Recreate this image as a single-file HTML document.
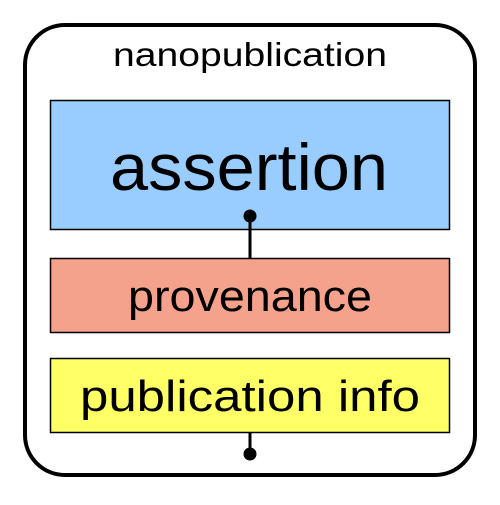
<!DOCTYPE html>
<html><head><style>html,body{margin:0;padding:0;background:#fff}</style></head>
<body>
<svg width="500" height="500" viewBox="0 0 500 500" xmlns="http://www.w3.org/2000/svg" font-family="Liberation Sans, sans-serif">
<rect x="25" y="25" width="450" height="450" rx="40" ry="40" fill="#fff" stroke="#000" stroke-width="4"/>
<text x="250" y="66" font-size="33" text-anchor="middle" textLength="274" lengthAdjust="spacingAndGlyphs">nanopublication</text>
<rect x="50.5" y="100.5" width="399" height="129" fill="#99ccff" stroke="#000" stroke-width="1.5"/>
<text x="249" y="190" font-size="66" text-anchor="middle" textLength="278" lengthAdjust="spacingAndGlyphs">assertion</text>
<rect x="50.5" y="258.5" width="399" height="74" fill="#f4a28c" stroke="#000" stroke-width="1.5"/>
<text x="250" y="311" font-size="44" text-anchor="middle" textLength="244" lengthAdjust="spacingAndGlyphs">provenance</text>
<rect x="50.5" y="358.5" width="399" height="74" fill="#ffff66" stroke="#000" stroke-width="1.5"/>
<text x="250" y="411" font-size="44" text-anchor="middle" textLength="340" lengthAdjust="spacingAndGlyphs">publication info</text>
<line x1="250" y1="216" x2="250" y2="258" stroke="#000" stroke-width="3"/>
<circle cx="250" cy="216" r="6.5" fill="#000"/>
<line x1="250" y1="432" x2="250" y2="454" stroke="#000" stroke-width="3"/>
<circle cx="250" cy="454" r="6.5" fill="#000"/>
</svg>
</body></html>
